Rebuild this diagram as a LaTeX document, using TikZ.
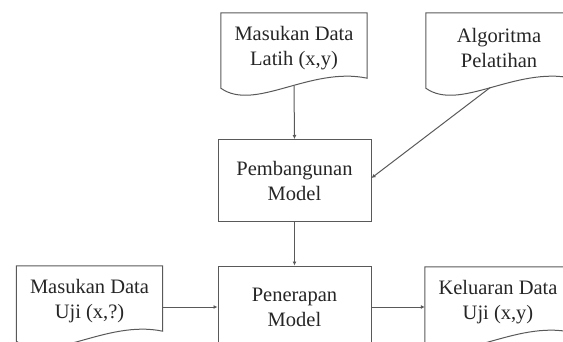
\documentclass[tikz,border=0pt]{standalone}
\usepackage{fontspec}
\setmainfont{Liberation Serif}
\usetikzlibrary{arrows.meta}

% Document shape: straight top and sides, wavy bottom edge
\newcommand{\docshape}[1]{%
  \draw[line] (#1.north west) -- (#1.north east)
    -- ([yshift=5pt]#1.south east)
    .. controls ([xshift=-57pt,yshift=17pt]#1.south east)
    and ([xshift=34pt,yshift=-29pt]#1.south west) .. ([yshift=-5pt]#1.south west)
    -- cycle;}

\tikzset{
  line/.style={draw=black!65, line width=1pt},
  arr/.style={line, -{Latex[length=4pt,width=4pt]}},
  txt/.style={align=center, text=black!85, font=\fontsize{20.5}{25}\selectfont},
  docnode/.style={txt, minimum width=146pt, minimum height=70pt, inner sep=0pt},
  boxnode/.style={txt, line, minimum width=153pt, minimum height=82pt, inner sep=0pt}
}

\begin{document}
\begin{tikzpicture}[x=1pt, y=-1pt]

    % Fix the frame to the size of the reference
    \useasboundingbox (0,0) rectangle (563,341);
    \clip (0,0) rectangle (563,341);

    % Input documents at the top
    \node[docnode] (latih) at (294,48) {Masukan Data\\Latih (x,y)};
    \node[docnode] (algo) at (499,48) {Algoritma\\Pelatihan};
    \docshape{latih}
    \docshape{algo}

    % Model building process
    \node[boxnode] (pemb) at (294.5,180.5) {Pembangunan\\Model};

    % Documents and process in the bottom row
    \node[boxnode] (pen) at (294.5,307) {Penerapan\\Model};
    \node[docnode] (uji) at (89.5,301) {Masukan Data\\Uji (x,?)};
    \node[docnode] (kel) at (498,302) {Keluaran Data\\Uji (x,y)};
    \docshape{uji}
    \docshape{kel}

    % Points on the wavy edges where the arrows start
    \coordinate (latih-out) at ([yshift=-3pt]latih.south);
    \coordinate (algo-out) at ([xshift=-9pt,yshift=-4.5pt]algo.south);

    % Arrows
    \draw[arr] (latih-out) -- (pemb.north);
    \draw[arr] (algo-out) -- ([yshift=2.5pt]pemb.east);
    \draw[arr] (pemb.south) -- (pen.north);
    \draw[arr] (uji.east |- pen.west) -- (pen.west);
    \draw[arr] (pen.east) -- (kel.west |- pen.east);

\end{tikzpicture}
\end{document}
